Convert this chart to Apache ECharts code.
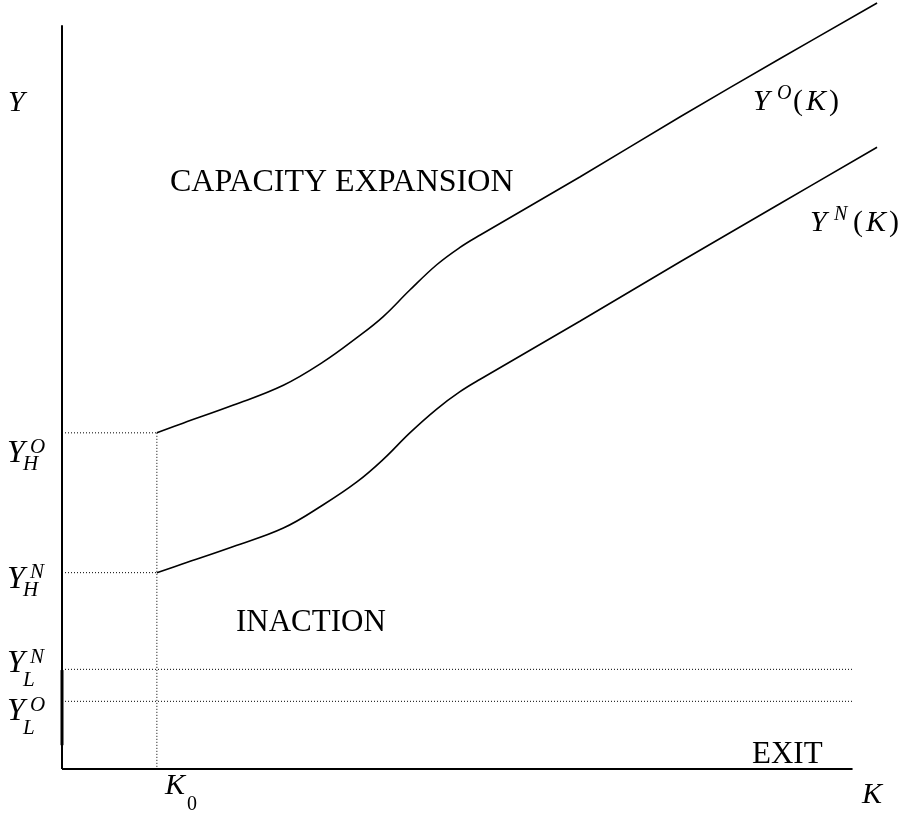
<!DOCTYPE html>
<html>
<head>
<meta charset="utf-8">
<script src="https://cdn.jsdelivr.net/npm/echarts@6/dist/echarts.min.js"></script>
<style>html,body{margin:0;padding:0;background:#fff}#c{width:900px;height:813px}</style>
</head>
<body>
<div id="c"></div>
<script>
// Threshold values (data units: axes drawn from 0 to 100 on K and Y)
const K0 = 12.0;
const thresholds = { YHO: 45.2, YHN: 26.4, YLN: 13.4, YLO: 9.1 };
// Sample capacities K along both boundaries
const kVals = [12.0, 15.3, 21.6, 28.0, 33.0, 37.3, 40.6, 44.0, 47.4, 50.3, 52.9, 65.5, 78.2, 90.8, 103.1];
// Y^O(K) boundary
const yO = [45.2, 46.5, 48.9, 51.6, 54.7, 58.0, 60.8, 64.4, 67.8, 70.1, 71.8, 79.6, 87.7, 95.5, 103.0];
// Y^N(K) boundary
const yN = [26.4, 27.6, 29.9, 32.4, 35.5, 38.6, 41.6, 45.2, 48.4, 50.7, 52.4, 60.2, 68.2, 76.0, 83.6];
const AXIS_END = 100;

const chart = echarts.init(document.getElementById('c'), null, {renderer: 'canvas'});
const zip = (a, b) => a.map((v, i) => [v, b[i]]);
const black = '#000';
const dotted = {color: black, width: 1, type: [1, 2]};
const serif = '"Liberation Serif", "Times New Roman", serif';

function seg(data, lineStyle, z) {
  return {type: 'line', data, showSymbol: false, silent: true, clip: false, lineStyle, z: z || 1};
}
function txt(x, y, text, size, italic) {
  return {
    type: 'text', x, y, silent: true,
    style: {text, font: (italic ? 'italic ' : '') + size + 'px ' + serif,
            fill: black, align: 'left', verticalAlign: 'middle'}
  };
}
function richTxt(x, y, text, size) {
  return {
    type: 'text', x, y, silent: true,
    style: {text, fill: black, align: 'left', verticalAlign: 'middle',
      font: size + 'px ' + serif,
      rich: {
        i: {fontFamily: serif, fontStyle: 'italic', fontSize: size, padding: [0, 3, 0, 3]},
        n: {fontFamily: serif, fontSize: size}
      }}
  };
}

const option = {
  animation: false,
  backgroundColor: '#fff',
  grid: {left: 62, right: 0, top: 0, bottom: 44},
  xAxis: {type: 'value', min: 0, max: 106, show: true,
    axisLine: {show: false}, axisTick: {show: false}, axisLabel: {show: false}, splitLine: {show: false}},
  yAxis: {type: 'value', min: 0, max: 103.4, show: true,
    axisLine: {show: false}, axisTick: {show: false}, axisLabel: {show: false}, splitLine: {show: false}},
  series: [
    // axes
    seg([[0, 0], [AXIS_END, 0]], {color: black, width: 2}, 3),
    seg([[0, 0], [0, AXIS_END]], {color: black, width: 2}, 3),
    seg([[0, 3.2], [0, 13.3]], {color: black, width: 3}, 3),
    // dotted reference lines
    seg([[0, thresholds.YHO], [K0, thresholds.YHO]], dotted),
    seg([[0, thresholds.YHN], [K0, thresholds.YHN]], dotted),
    seg([[K0, thresholds.YHO], [K0, 0]], dotted),
    seg([[0, thresholds.YLN], [AXIS_END, thresholds.YLN]], dotted),
    seg([[0, thresholds.YLO], [AXIS_END, thresholds.YLO]], dotted),
    // boundaries
    Object.assign(seg(zip(kVals, yO), {color: black, width: 1.6}, 2), {smooth: 0.4}),
    Object.assign(seg(zip(kVals, yN), {color: black, width: 1.6}, 2), {smooth: 0.4})
  ],
  graphic: [
    txt(8, 103, 'Y', 30, true),
    txt(170, 183, 'CAPACITY EXPANSION', 32, false),
    txt(236, 623, 'INACTION', 31, false),
    txt(752, 755, 'EXIT', 31, false),
    txt(862, 795, 'K', 30, true),
    txt(165, 786, 'K', 30, true),
    txt(187, 805, '0', 20, false),
    // Y^O(K)
    txt(753, 102, 'Y', 30, true),
    txt(777, 94, 'O', 20, true),
    richTxt(793, 102, '{n|(}{i|K}{n|)}', 30),
    // Y^N(K)
    txt(810, 223, 'Y', 30, true),
    txt(834, 215, 'N', 20, true),
    richTxt(853, 223, '{n|(}{i|K}{n|)}', 30),
    // Y_H^O
    txt(7, 454, 'Y', 32, true),
    txt(30, 447, 'O', 21, true),
    txt(23, 464, 'H', 21, true),
    // Y_H^N
    txt(7, 580, 'Y', 32, true),
    txt(30, 572, 'N', 21, true),
    txt(23, 590, 'H', 21, true),
    // Y_L^N
    txt(7, 664, 'Y', 32, true),
    txt(30, 657, 'N', 21, true),
    txt(23, 680, 'L', 21, true),
    // Y_L^O
    txt(7, 712, 'Y', 32, true),
    txt(30, 705, 'O', 21, true),
    txt(23, 728, 'L', 21, true)
  ]
};
chart.setOption(option);
</script>
</body>
</html>
